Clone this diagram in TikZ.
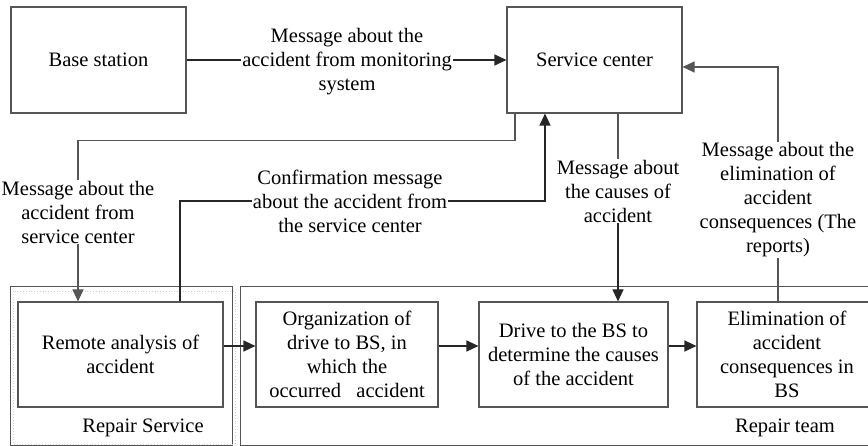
\documentclass[tikz,border=0pt]{standalone}
\usepackage{fontspec}
\setmainfont{Liberation Serif}
\usetikzlibrary{arrows.meta}
\definecolor{edge}{HTML}{555555}
\begin{document}
\begin{tikzpicture}[x=1pt,y=-1pt,
  every node/.style={font=\fontsize{20.5}{24}\selectfont},
  box/.style={draw=edge,line width=1.1pt,minimum height=105pt,inner sep=0pt,align=center},
  lbl/.style={inner sep=1pt,align=center},
  conn/.style={line width=1.1pt,draw=black!85},
  gconn/.style={line width=1.1pt,draw=edge},
  tip/.style={-{Triangle[length=12pt,width=11pt]}},
  gtip/.style={-{Triangle[length=12pt,width=11pt,fill=edge]}},
  cont/.style={draw=edge,line width=1pt}]
\useasboundingbox (0,0) rectangle (868,446);
% containers
\draw[cont] (10,287) rectangle (232,445);
\draw[black!20,dotted,line width=0.8pt] (13,291) rectangle (235,444);
\draw[cont] (240,287) rectangle (885,445);
\node (rsl) at (143,428) {Repair Service};
\node (rtl) at (785,428) {Repair team};
% boxes
\node[box,minimum width=175pt,minimum height=106pt] (bs) at (98.5,60) {Base station};
\node[box,minimum width=175pt,minimum height=106pt] (sc) at (594.5,60) {Service center};
\node[box,minimum width=205pt] (ra) at (120.5,354.5) {Remote analysis of\\accident};
\node[box,minimum width=182pt] (org) at (347,354.5) {Organization of\\drive to BS, in\\which the\\occurred~~ accident};
\node[box,minimum width=189pt] (drv) at (573.5,354.5) {Drive to the BS to\\determine the causes\\of the accident};
\node[box,minimum width=180pt] (elim) at (787,354.5) {Elimination of\\accident\\consequences in\\BS};
% labels
\node[lbl] (l1) at (347,62) {Message about the\\accident from monitoring\\system};
\node[lbl] (l2) at (78,212) {Message about the\\accident from\\service center};
\node[lbl] (l3) at (350,201) {Confirmation message\\about the accident from\\the service center};
\node[lbl] (l4) at (618,191) {Message about\\the causes of\\accident};
\node[lbl] (l5) at (778,200) {Message about the\\elimination of\\accident\\consequences (The\\reports)};
% connectors
\draw[conn] (bs.east) -- (bs.east -| l1.west);
\draw[conn,tip] (bs.east -| l1.east) -- (sc.west);
\draw[gconn] ([xshift=-79.5pt]sc.south) -- ++(0,27) -| (l2.north);
\draw[gconn,gtip] (l2.south) -- (l2.south |- ra.north);
\draw[conn] ([xshift=59.5pt]ra.north) |- (l3.west);
\draw[conn,tip] (l3.east) -| ([xshift=-49.5pt]sc.south);
\draw[gconn] (sc.south -| l4) -- (l4.north);
\draw[conn,tip] (l4.south) -- (l4.south |- drv.north);
\draw[gconn] (elim.north -| l5) -- (l5.south);
\draw[gconn,gtip] (l5.north) |- ([yshift=-7pt]sc.east);
\draw[conn,tip] ([yshift=8.5pt]ra.east) -- ([yshift=8.5pt]org.west);
\draw[conn,tip] ([yshift=8.5pt]org.east) -- ([yshift=8.5pt]drv.west);
\draw[conn,tip] ([yshift=8.5pt]drv.east) -- ([yshift=8.5pt]elim.west);
\end{tikzpicture}
\end{document}
